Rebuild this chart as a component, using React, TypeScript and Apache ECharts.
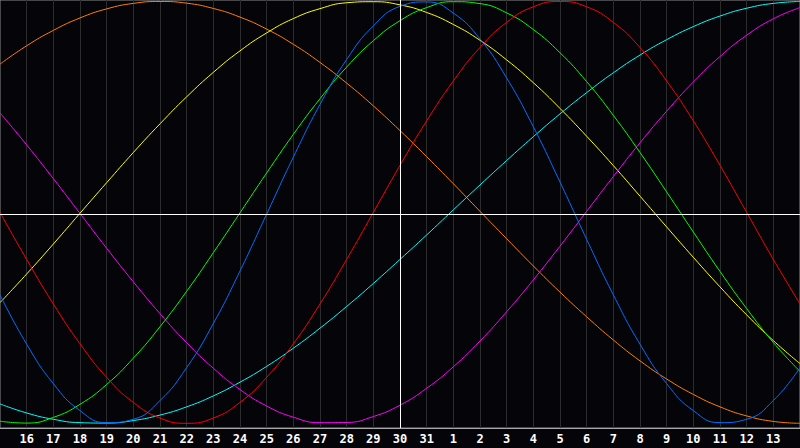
import React, { useEffect, useRef } from "react";
import * as echarts from "echarts";

const dayLabels = [
  "15", "16", "17", "18", "19", "20", "21", "22", "23", "24", "25", "26", "27", "28", "29", "30", "31",
  "1", "2", "3", "4", "5", "6", "7", "8", "9", "10", "11", "12", "13", "14",
];

// 23-day cycle (blue)
const physical = [
  -0.391, -0.625, -0.812, -0.94, -0.997, -0.981, -0.892, -0.736, -0.527, -0.278, -0.008,
  0.262, 0.512, 0.725, 0.884, 0.977, 0.998, 0.945, 0.822, 0.637, 0.406, 0.144,
  -0.128, -0.391, -0.625, -0.812, -0.94, -0.997, -0.981, -0.892, -0.736,
];
// 28-day cycle (red)
const emotional = [
  0, -0.223, -0.434, -0.623, -0.782, -0.901, -0.975, -1, -0.975, -0.901, -0.782,
  -0.623, -0.434, -0.223, 0, 0.223, 0.434, 0.623, 0.782, 0.901, 0.975, 1,
  0.975, 0.901, 0.782, 0.623, 0.434, 0.223, 0, -0.223, -0.434,
];
// 33-day cycle (green)
const intellectual = [
  -0.99, -0.999, -0.972, -0.91, -0.816, -0.691, -0.542, -0.374, -0.191, -0.002, 0.187,
  0.37, 0.539, 0.689, 0.814, 0.909, 0.971, 0.999, 0.99, 0.946, 0.867, 0.757,
  0.62, 0.46, 0.284, 0.097, -0.093, -0.28, -0.456, -0.617, -0.754,
];
// 38-day cycle (magenta)
const intuitive = [
  0.472, 0.32, 0.16, -0.005, -0.17, -0.329, -0.48, -0.618, -0.739, -0.84, -0.918,
  -0.971, -0.997, -0.996, -0.968, -0.914, -0.834, -0.732, -0.61, -0.471, -0.32, -0.16,
  0.005, 0.17, 0.33, 0.48, 0.618, 0.739, 0.84, 0.918, 0.971,
];
// 43-day cycle (yellow)
const aesthetic = [
  -0.428, -0.292, -0.15, -0.004, 0.141, 0.284, 0.42, 0.548, 0.664, 0.766, 0.851,
  0.919, 0.966, 0.994, 0.999, 0.984, 0.948, 0.891, 0.816, 0.723, 0.615, 0.493,
  0.361, 0.222, 0.077, -0.069, -0.213, -0.353, -0.486, -0.608, -0.717,
];
// 48-day cycle (orange)
const awareness = [
  0.703, 0.79, 0.863, 0.922, 0.965, 0.991, 1.0, 0.992, 0.967, 0.926, 0.869,
  0.797, 0.711, 0.613, 0.505, 0.388, 0.264, 0.136, 0.005, -0.125, -0.254, -0.378,
  -0.495, -0.605, -0.704, -0.79, -0.863, -0.922, -0.965, -0.991, -1.0,
];
// 53-day cycle (cyan)
const spiritual = [
  -0.908, -0.951, -0.981, -0.997, -0.999, -0.987, -0.961, -0.922, -0.87, -0.805, -0.73,
  -0.644, -0.549, -0.446, -0.337, -0.223, -0.107, 0.012, 0.13, 0.246, 0.359, 0.467,
  0.568, 0.662, 0.746, 0.819, 0.881, 0.931, 0.968, 0.991, 1.0,
];

const todayIndex = 15; // "30"

export default function App() {
  const ref = useRef<HTMLDivElement>(null);
  useEffect(() => {
    document.body.style.margin = "0";
    document.body.style.background = "#050409";
    const chart = echarts.init(ref.current!, null, { renderer: "svg" });
    const mk = (name: string, data: number[], color: string, extra: any = {}) => ({
      name,
      type: "line",
      data,
      smooth: true,
      symbol: "none",
      silent: true,
      lineStyle: { color, width: 1 },
      ...extra,
    });
    const last = dayLabels.length - 1;
    chart.setOption({
      animation: false,
      backgroundColor: "#050409",
      grid: {
        left: 0,
        top: 0,
        right: 0,
        bottom: 20,
        containLabel: false,
        outerBoundsMode: "none",
        show: true,
        borderColor: "#8c8c8c",
        borderWidth: 1,
        backgroundColor: "#050409",
      },
      xAxis: {
        type: "category",
        data: dayLabels,
        boundaryGap: false,
        axisLine: { show: true, onZero: false, lineStyle: { color: "#a8a8a8", width: 1 } },
        axisTick: { show: false },
        axisLabel: {
          interval: (index: number) => index > 0 && index < last,
          color: "#ffffff",
          fontFamily: "DejaVu Sans Mono",
          fontWeight: "bold",
          fontSize: 12,
          margin: 5,
        },
        splitLine: { show: true, lineStyle: { color: "#2c2c2c", width: 1 } },
      },
      yAxis: {
        type: "value",
        min: -1.0223,
        max: 1.0071,
        axisLine: { show: false },
        axisTick: { show: false },
        axisLabel: { show: false },
        splitLine: { show: false },
      },
      series: [
        mk("orange", awareness, "#ff8000"),
        mk("yellow", aesthetic, "#ffff00"),
        mk("cyan", spiritual, "#00ffff"),
        mk("magenta", intuitive, "#ff00ff"),
        mk("green", intellectual, "#00ff00"),
        mk("red", emotional, "#ff0000"),
        mk("blue", physical, "#0070ff", {
          markLine: {
            silent: true,
            symbol: "none",
            label: { show: false },
            lineStyle: { color: "#ffffff", width: 1, type: "solid" },
            data: [{ xAxis: todayIndex }, { yAxis: -0.009 }],
          },
        }),
      ],
    });
    return () => chart.dispose();
  }, []);
  return (
    <div
      ref={ref}
      style={{ position: "fixed", left: 0, top: 0, width: 800, height: 448 }}
    />
  );
}
